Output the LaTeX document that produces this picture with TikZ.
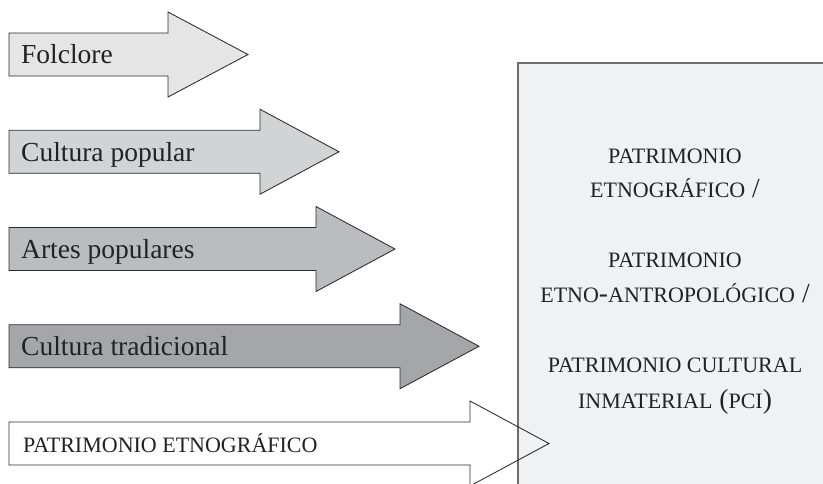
\documentclass[tikz,border=0pt]{standalone}
\usepackage{fontspec}
\setmainfont{Liberation Serif}
\definecolor{fillA}{HTML}{E5E5E6}
\definecolor{fillB}{HTML}{D2D3D5}
\definecolor{fillC}{HTML}{BBBCBF}
\definecolor{fillD}{HTML}{A5A6A9}
\definecolor{fillE}{HTML}{FFFFFF}
\definecolor{boxfill}{HTML}{F0F1F3}
\definecolor{boxline}{HTML}{6D6D6D}
\definecolor{outl}{HTML}{2B2B2B}
\definecolor{txt}{HTML}{222222}
\newcommand{\SC}[1]{{\fontsize{22}{26}\selectfont #1}}
\newcommand{\arrpath}[3]{(9,{#1-21.5}) -- (#2,{#1-21.5}) -- (#2,{#1-42.5}) -- (#3,#1)
    -- (#2,{#1+42.5}) -- (#2,{#1+21.5}) -- (9,{#1+21.5}) -- cycle}
\newcommand{\bigarr}[4]{\draw[arrowshape, fill=#4] \arrpath{#1}{#2}{#3};}
\tikzset{
  arrowshape/.style={draw=outl, line width=0.85pt, line join=miter},
  lbl/.style={anchor=base west, inner sep=0pt, font=\fontsize{27.5}{33}\selectfont, text=txt},
  boxtxt/.style={anchor=base, inner sep=0pt, font=\fontsize{27.5}{33}\selectfont, text=txt}
}
\begin{document}
\begin{tikzpicture}[x=1pt,y=-1pt]
\useasboundingbox (0,0) rectangle (823,483);
\clip (0,0) rectangle (823,483);
% arrows
\bigarr{54.5}{168}{248}{fillA}
\bigarr{151.75}{260}{339}{fillB}
\bigarr{249}{316}{395}{fillC}
\bigarr{346.25}{400}{479}{fillD}
\fill[fillE] \arrpath{443.5}{470}{549};
% box
\fill[boxfill] (518,63) rectangle (840,500);
\draw[boxline, line width=1.6pt] (518,500) -- (518,63) -- (840,63);
\coordinate (boxcorner) at (518,63);
% last arrow outline over the box
\draw[arrowshape] \arrpath{443.5}{470}{549};
% arrow labels
\node[lbl] (a1) at (21,63.5) {Folclore};
\node[lbl] (a2) at (21,161) {Cultura popular};
\node[lbl] (a3) at (21,258) {Artes populares};
\node[lbl] (a4) at (21,355.5) {Cultura tradicional};
\node[lbl] (a5) at (23,452) {\SC{PATRIMONIO ETNOGRÁFICO}};
% box text
\node[boxtxt] (b1) at (675,163) {\SC{PATRIMONIO}};
\node[boxtxt] (b2) at (675,197) {\SC{ETNOGRÁFICO} /};
\node[boxtxt] (b3) at (675,267) {\SC{PATRIMONIO}};
\node[boxtxt] (b4) at (675,302) {\SC{ETNO}-\SC{ANTROPOLÓGICO} /};
\node[boxtxt] (b5) at (675,372) {\SC{PATRIMONIO CULTURAL}};
\node[boxtxt] (b6) at (675,408) {\SC{INMATERIAL} (\SC{PCI})};
\end{tikzpicture}
\end{document}
